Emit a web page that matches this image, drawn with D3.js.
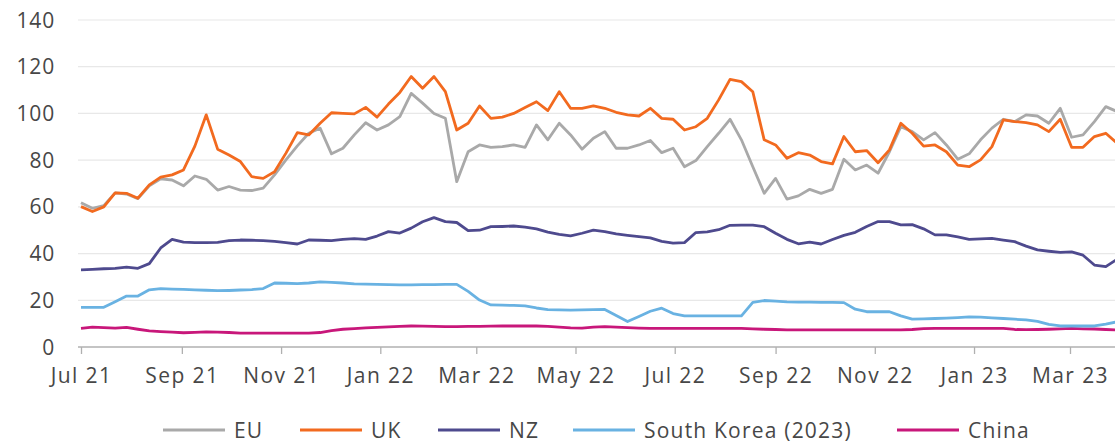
<!DOCTYPE html>
<html>
<head>
<meta charset="utf-8">
<script src="https://cdn.jsdelivr.net/npm/d3@7"></script>
<style>
  body { margin: 0; background: #fff; }
  text { font-family: "Open Sans", sans-serif; fill: #474747; }
</style>
</head>
<body>
<script>
const w = 1115;
const h = 443;

// weekly readings, first week = 1 Jul 2021
const firstWeek = new Date(2021, 6, 1);

const eu = [61.8, 59.4, 60.5, 66, 65.5, 63.5, 69, 72, 71.5, 69,
  73.2, 71.8, 67.2, 68.7, 67.2, 67, 68, 73.7, 80.1, 86.1,
  91.5, 93.7, 82.7, 85.1, 90.8, 96, 92.9, 95.1, 98.6, 108.6,
  104.4, 100, 97.9, 70.8, 83.6, 86.5, 85.5, 85.8, 86.5, 85.5,
  95.1, 88.7, 95.8, 90.8, 84.7, 89.4, 92.2, 85.1, 85.1, 86.5,
  88.4, 83.2, 85.1, 77.2, 79.8, 85.8, 91.5, 97.5, 88.7, 77.2,
  65.8, 72.2, 63.3, 64.7, 67.5, 65.8, 67.5, 80.4, 75.8, 77.9,
  74.4, 83.6, 94.3, 92.2, 88.7, 91.8, 86.5, 80.4, 82.7, 88.7,
  93.7, 97.5, 96.5, 99.4, 98.9, 95.8, 102.2, 89.8, 90.8, 96.5, 102.9, 100.8];

const uk = [60.1, 58, 60, 66, 65.8, 63.7, 69.4, 72.7, 73.7, 75.8,
  86, 99.4, 84.7, 82.2, 79.4, 72.9, 72.2, 75, 83, 91.8,
  90.8, 95.8, 100.3, 100, 99.8, 102.6, 98.4, 104, 109, 115.8,
  110.8, 115.8, 109.3, 92.9, 95.8, 103.2, 97.9, 98.4, 100, 102.5,
  105, 101.2, 109.3, 102.2, 102.2, 103.2, 102.2, 100.5, 99.4, 98.9,
  102.2, 97.9, 97.5, 92.9, 94.3, 97.9, 105.8, 114.6, 113.6, 109.3,
  88.7, 86.5, 80.8, 83.2, 82.2, 79.4, 78.4, 90.1, 83.6, 84.1,
  78.9, 84.4, 95.8, 91.5, 86, 86.5, 83.6, 77.9, 77.2, 80.1,
  85.8, 97.2, 96.5, 96.1, 95.1, 92.2, 97.5, 85.5, 85.5, 90.1, 91.5, 87.2];

const nz = [33, 33.2, 33.5, 33.7, 34.2, 33.7, 35.7, 42.4, 46.1, 44.9,
  44.7, 44.7, 44.8, 45.5, 45.8, 45.7, 45.5, 45.2, 44.7, 44.1,
  45.8, 45.7, 45.5, 46.1, 46.4, 46.1, 47.5, 49.4, 48.8, 50.9,
  53.6, 55.4, 53.7, 53.3, 49.8, 50, 51.5, 51.6, 51.8, 51.3,
  50.6, 49.2, 48.2, 47.6, 48.7, 50, 49.4, 48.4, 47.8, 47.3,
  46.7, 45.2, 44.5, 44.7, 49, 49.3, 50.2, 52.1, 52.2, 52.2,
  51.5, 48.7, 46.1, 44.2, 44.9, 44.1, 46, 47.8, 49.1, 51.6,
  53.7, 53.7, 52.3, 52.4, 50.6, 48, 48, 47.1, 46.1, 46.3,
  46.5, 45.8, 45.1, 43.2, 41.6, 41, 40.5, 40.7, 39.3, 35.1, 34.4, 37.6];

const southKorea = [17, 17, 17, 19.4, 21.8, 21.8, 24.5, 25, 24.8, 24.7,
  24.5, 24.3, 24.1, 24.2, 24.4, 24.6, 25, 27.4, 27.3, 27.1,
  27.4, 27.9, 27.7, 27.4, 27, 26.9, 26.8, 26.7, 26.6, 26.6,
  26.7, 26.7, 26.8, 26.8, 23.8, 20.1, 18, 17.9, 17.8, 17.6,
  16.7, 16, 15.9, 15.8, 15.9, 16, 16.1, 13.5, 10.9, 13.1,
  15.3, 16.6, 14.3, 13.3, 13.3, 13.3, 13.3, 13.3, 13.3, 19.1,
  19.9, 19.6, 19.3, 19.2, 19.2, 19.1, 19.1, 19, 16.2, 15.1,
  15.1, 15.1, 13.3, 11.9, 12, 12.2, 12.4, 12.6, 12.9, 12.8,
  12.5, 12.2, 11.9, 11.6, 11, 9.7, 9, 9, 9, 9, 9.8, 10.8];

const china = [8, 8.5, 8.3, 8.1, 8.4, 7.6, 6.9, 6.6, 6.4, 6.1,
  6.3, 6.5, 6.4, 6.2, 5.9, 5.9, 5.9, 5.9, 5.9, 5.9,
  5.9, 6.2, 7, 7.6, 7.9, 8.2, 8.4, 8.6, 8.8, 9,
  8.9, 8.8, 8.7, 8.7, 8.8, 8.8, 8.9, 9, 9, 9,
  9, 8.8, 8.5, 8.2, 8.1, 8.5, 8.7, 8.5, 8.3, 8.1,
  8, 8, 8, 8, 8, 8, 8, 8, 8, 7.8,
  7.6, 7.5, 7.3, 7.3, 7.3, 7.3, 7.3, 7.3, 7.3, 7.3,
  7.3, 7.3, 7.3, 7.5, 7.9, 8, 8, 8, 8, 8,
  8, 8, 7.5, 7.4, 7.5, 7.6, 7.8, 8, 7.8, 7.7, 7.5, 7.3];

const yTicks = [0, 20, 40, 60, 80, 100, 120, 140];
const xTickDates = [
  new Date(2021, 6, 1), new Date(2021, 8, 1), new Date(2021, 10, 1),
  new Date(2022, 0, 1), new Date(2022, 2, 1), new Date(2022, 4, 1),
  new Date(2022, 6, 1), new Date(2022, 8, 1), new Date(2022, 10, 1),
  new Date(2023, 0, 1), new Date(2023, 2, 1)];
const xTickLabels = ["Jul 21", "Sep 21", "Nov 21", "Jan 22", "Mar 22", "May 22",
  "Jul 22", "Sep 22", "Nov 22", "Jan 23", "Mar 23"];

const seriesNames = ["EU", "UK", "NZ", "South Korea (2023)", "China"];
const seriesColors = ["#a9a9a9", "#f26a1f", "#4e4a8e", "#69b2e2", "#c8177a"];
const seriesValues = [eu, uk, nz, southKorea, china];

const weeks = eu.map((d, i) => d3.timeDay.offset(firstWeek, 7 * i));

const x = d3.scaleTime()
  .domain([new Date(2021, 6, 1), new Date(2023, 2, 1)])
  .range([81, 1070]);
const y = d3.scaleLinear().domain([0, 140]).range([347, 20]);

const svg = d3.select("body").append("svg").attr("width", w).attr("height", h);

// gridlines
svg.append("g")
  .selectAll("line")
  .data(yTicks.filter((d) => d > 0))
  .join("line")
  .attr("x1", 78)
  .attr("x2", w)
  .attr("y1", (d) => y(d))
  .attr("y2", (d) => y(d))
  .attr("stroke", "#e8e8e8")
  .attr("stroke-width", 1.2);

// y labels
svg.append("g")
  .selectAll("text")
  .data(yTicks)
  .join("text")
  .attr("x", 55)
  .attr("y", (d) => y(d))
  .attr("dy", "0.36em")
  .attr("text-anchor", "end")
  .style("font-size", "21px")
  .style("letter-spacing", "0.8px")
  .text((d) => d);

// x axis
const xAxis = svg.append("g")
  .attr("transform", `translate(0,${y(0)})`)
  .call(d3.axisBottom(x)
    .tickValues(xTickDates)
    .tickFormat((d, i) => xTickLabels[i])
    .tickSize(7)
    .tickPadding(14));
xAxis.select(".domain").remove();
xAxis.selectAll("line").attr("stroke", "#b0b0b0").attr("stroke-width", 1.3);
xAxis.selectAll("text")
  .style("font-size", "21px")
  .style("letter-spacing", "1.4px")
  .style("font-family", '"Open Sans", sans-serif')
  .attr("fill", "#474747");
svg.append("line")
  .attr("x1", 78).attr("x2", w)
  .attr("y1", y(0)).attr("y2", y(0))
  .attr("stroke", "#b0b0b0").attr("stroke-width", 1.3);

// lines
const line = d3.line()
  .x((d, i) => x(weeks[i]))
  .y((d) => y(d));

const drawOrder = [4, 3, 2, 0, 1];
svg.append("g")
  .selectAll("path")
  .data(drawOrder)
  .join("path")
  .attr("d", (k) => line(seriesValues[k]))
  .attr("fill", "none")
  .attr("stroke", (k) => seriesColors[k])
  .attr("stroke-width", 2.8)
  .attr("stroke-linejoin", "round");

// legend
const legendX = [163, 300, 438, 573, 897];
const legend = svg.append("g")
  .selectAll("g")
  .data(seriesNames)
  .join("g")
  .attr("transform", (d, i) => `translate(${legendX[i]},430)`);
legend.append("line")
  .attr("x1", 0).attr("x2", 62)
  .attr("stroke", (d, i) => seriesColors[i])
  .attr("stroke-width", 3);
legend.append("text")
  .attr("x", 71)
  .attr("dy", "0.36em")
  .style("font-size", "21px")
  .style("letter-spacing", "1.2px")
  .text((d) => d);
</script>
</body>
</html>
